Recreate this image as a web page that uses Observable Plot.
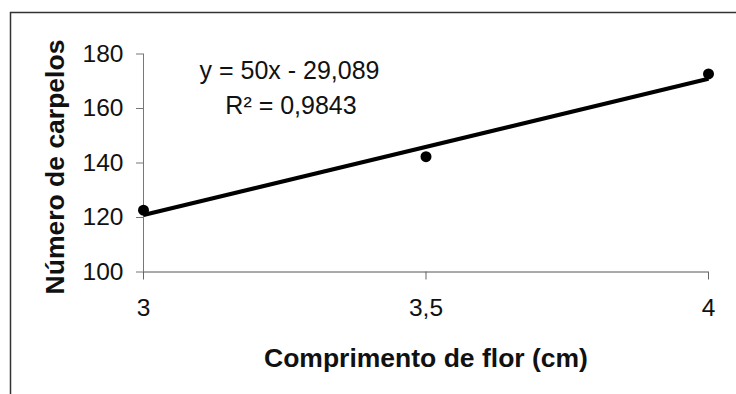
<!DOCTYPE html>
<html>
<head>
<meta charset="utf-8">
<script src="https://cdn.jsdelivr.net/npm/d3@7"></script>
<script src="https://cdn.jsdelivr.net/npm/@observablehq/plot@0.6"></script>
<style>
  html, body { margin: 0; padding: 0; background: #fff; }
  #chart svg { display: block; }
</style>
</head>
<body>
<div id="chart"></div>
<script>
// Data
const comprimento = [3, 3.5, 4];
const carpelos = [122.7, 142.3, 172.7];
const xTicks = [3, 3.5, 4];
const yTicks = [100, 120, 140, 160, 180];
const equationLabels = ["y = 50x - 29,089", "R² = 0,9843"];
const xTitle = "Comprimento de flor (cm)";
const yTitle = "Número de carpelos";

const data = comprimento.map((x, i) => ({x, y: carpelos[i]}));
const fmt = d => String(d).replace(".", ",");
const font = "'Liberation Sans', Arial, Helvetica, sans-serif";

const chart = Plot.plot({
  width: 736,
  height: 394,
  marginLeft: 143,
  marginRight: 28,
  marginTop: 53.5,
  marginBottom: 122.5,
  style: {fontFamily: font, background: "#fff", color: "#111"},
  x: {domain: [3, 4]},
  y: {domain: [100, 180]},
  marks: [
    Plot.axisY({ticks: yTicks, tickSize: 7, tickPadding: 13, fontSize: 24.5, stroke: "#777", fill: "#111", label: null}),
    Plot.axisX({ticks: xTicks, tickSize: 8, tickPadding: 19, fontSize: 24.5, stroke: "#666", fill: "#111", label: null, tickFormat: fmt}),
    Plot.ruleX([3], {y1: 100, y2: 180, stroke: "#777"}),
    Plot.ruleY([100], {stroke: "#555"}),
    Plot.linearRegressionY(data, {x: "x", y: "y", ci: 0, stroke: "#000", strokeWidth: 4, strokeLinecap: "butt"}),
    Plot.dot(data, {x: "x", y: "y", r: 5.5, fill: "#000", stroke: "none"}),
    Plot.text([equationLabels[0]], {frameAnchor: "top-left", dx: 146, dy: 16.5, text: d => d, textAnchor: "middle", lineAnchor: "middle", fontSize: 25, fill: "#111"}),
    Plot.text([equationLabels[1]], {frameAnchor: "top-left", dx: 147.5, dy: 52, text: d => d, textAnchor: "middle", lineAnchor: "middle", fontSize: 25, fill: "#111"}),
    Plot.text([xTitle], {frameAnchor: "bottom", dy: 87, text: d => d, textAnchor: "middle", lineAnchor: "middle", fontSize: 26.5, fontWeight: "bold", fill: "#111"}),
    Plot.text([yTitle], {frameAnchor: "left", dx: -88, dy: 4, rotate: -90, text: d => d, textAnchor: "middle", lineAnchor: "middle", fontSize: 26.5, fontWeight: "bold", fill: "#111"})
  ]
});

// outer chart-area border (top and left visible)
d3.select(chart).insert("rect", ":first-child")
  .attr("x", 10.5).attr("y", 12.5).attr("width", 800).attr("height", 500)
  .attr("fill", "none").attr("stroke", "#333").attr("stroke-width", 1.5);

document.getElementById("chart").appendChild(chart);
</script>
</body>
</html>
